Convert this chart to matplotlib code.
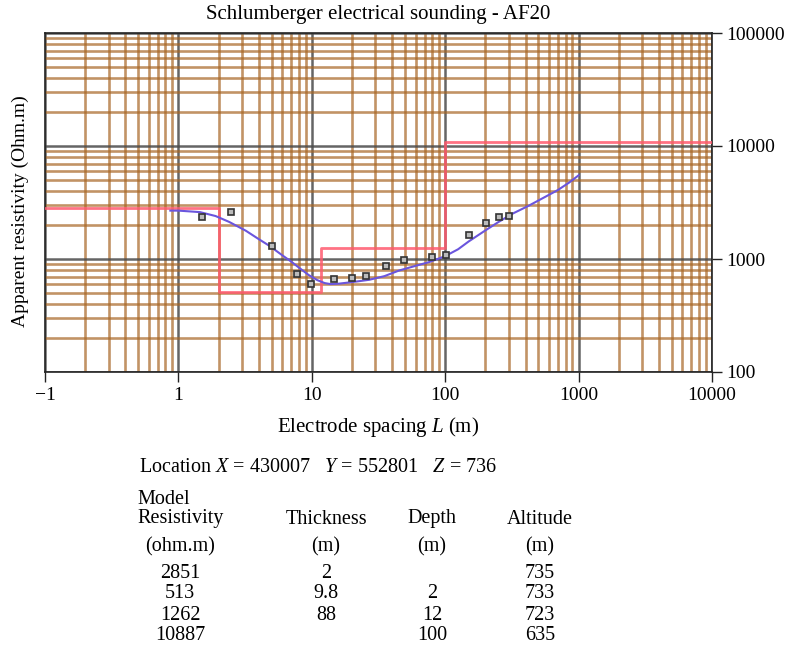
import numpy as np
import matplotlib
matplotlib.use("Agg")
from matplotlib import pyplot as plt
from matplotlib.ticker import FixedLocator, LogLocator, NullFormatter

# layered model (resistivity steps)
model_rho = [2851, 513, 1262, 10887]
model_top = [0.1, 2, 11.8, 100]
model_bot = [2, 11.8, 100, 10000]

# measured apparent resistivity
obs_L = [1.5, 2.5, 5.0, 7.7, 9.9, 14.7, 20, 25.5, 36, 49, 79, 101, 151, 203, 254, 303]
obs_rho = [2350, 2600, 1300, 740, 605, 665, 680, 705, 865, 975, 1040, 1085, 1630, 2080, 2350, 2400]

# fitted curve
fit_L = [0.87, 1.0, 1.45, 1.9, 2.4, 3.2, 4.0, 4.8, 6.0, 7.0, 8.1, 9.5, 11, 12.5, 13.8,
         16, 19, 23, 27, 35, 45, 60, 76, 100, 125, 150, 200, 250, 320, 420, 550, 700, 850, 1000]
fit_rho = [2680, 2680, 2600, 2400, 2130, 1780, 1500, 1310, 1080, 950, 830, 720, 650, 612, 600,
           605, 620, 638, 655, 705, 790, 870, 940, 1060, 1220, 1430, 1790, 2120, 2520, 2950, 3500, 4080, 4750, 5500]

x_ticks = [0.1, 1, 10, 100, 1000, 10000]
x_ticklabels = ["\u22121", "1", "10", "100", "1000", "10000"]
y_ticks = [100, 1000, 10000, 100000]
y_ticklabels = ["100", "1000", "10000", "100000"]

location = "Location $X$ = 430007   $Y$ = 552801   $Z$ = 736"
col_heads = ["Thickness", "Depth", "Altitude"]
col_units = ["(ohm.m)", "(m)", "(m)", "(m)"]
table_res = ["2851", "513", "1262", "10887"]
table_thick = ["2", "9.8", "88", ""]
table_depth = ["", "2", "12", "100"]
table_alt = ["735", "733", "723", "635"]

plt.rcParams['font.family'] = ['Liberation Serif', 'DejaVu Serif']
plt.rcParams['mathtext.fontset'] = 'custom'
plt.rcParams['mathtext.rm'] = 'Liberation Serif'
plt.rcParams['mathtext.it'] = 'Liberation Serif:italic'

W, H = 785, 650
fig = plt.figure(figsize=(W / 100, H / 100), dpi=100)

def fx(x):
  return x / W

def fy(y):
  return 1 - y / H

ax = fig.add_axes([fx(45), fy(372), fx(712) - fx(45), fy(33) - fy(372)])
ax.set_xscale('log')
ax.set_yscale('log')
ax.set_xlim(0.1, 10000)
ax.set_ylim(100, 100000)

# grid
brown = (0.66, 0.40, 0.14)
ax.xaxis.set_minor_locator(LogLocator(base=10, subs=np.arange(2, 10)))
ax.yaxis.set_minor_locator(LogLocator(base=10, subs=np.arange(2, 10)))
ax.xaxis.set_minor_formatter(NullFormatter())
ax.yaxis.set_minor_formatter(NullFormatter())
ax.grid(True, which='minor', color=brown, alpha=0.7, linewidth=1.9)
ax.grid(True, which='major', color='#4a4a4a', alpha=0.85, linewidth=1.8)
ax.set_axisbelow(True)
ax.tick_params(which='minor', length=0)

# model steps
sx = []
sy = []
for t, b, r in zip(model_top, model_bot, model_rho):
  sx += [t, b]
  sy += [r, r]
ax.plot(sx, sy, color='#ff5a6e', linewidth=2.0, alpha=0.85, zorder=3)

ax.plot(fit_L, fit_rho, color='#6a55dd', linewidth=1.5, zorder=4)
ax.plot(obs_L, obs_rho, linestyle='none', marker='s', markersize=4.5,
        markerfacecolor='#bbbbbb', markeredgecolor='#333333', markeredgewidth=1.2, zorder=5)

ax.xaxis.set_major_locator(FixedLocator(x_ticks))
ax.set_xticklabels(x_ticklabels)
ax.yaxis.set_major_locator(FixedLocator(y_ticks))
ax.set_yticklabels(y_ticklabels)
ax.yaxis.tick_right()
ax.tick_params(which='major', direction='out', length=7, width=1, labelsize=14, color='#222222')
ax.tick_params(axis='x', pad=4)
for s in ax.spines.values():
  s.set_color('#222222')
  s.set_linewidth(1.2)

ax.set_title("Schlumberger electrical sounding - AF20", fontsize=15, pad=10)
ax.set_xlabel("Electrode spacing $L$ (m)", fontsize=15, labelpad=8)
fig.text(fx(20), fy(211), "Apparent resistivity (Ohm.m)", fontsize=14,
         rotation=90, ha='center', va='center')

# info table
fig.text(fx(139), fy(467), location, fontsize=14.5, ha='left', va='center')
fig.text(fx(137), fy(499), "Model", fontsize=14.5, ha='left', va='center')
fig.text(fx(137), fy(519), "Resistivity", fontsize=14.5, ha='left', va='center')
col_x = [180, 326, 432, 540]
for cx, head in zip(col_x[1:], col_heads):
  fig.text(fx(cx), fy(519), head, fontsize=14.5, ha='center', va='center')
for cx, unit in zip(col_x, col_units):
  fig.text(fx(cx), fy(547), unit, fontsize=14.5, ha='center', va='center')
row_y = [573, 594, 615, 636]
for i, ry in enumerate(row_y):
  for cx, col in zip(col_x, [table_res, table_thick, table_depth, table_alt]):
    if col[i]:
      fig.text(fx(cx), fy(ry), col[i], fontsize=14.5, ha='center', va='center')

fig.savefig("out.png", dpi=100)
